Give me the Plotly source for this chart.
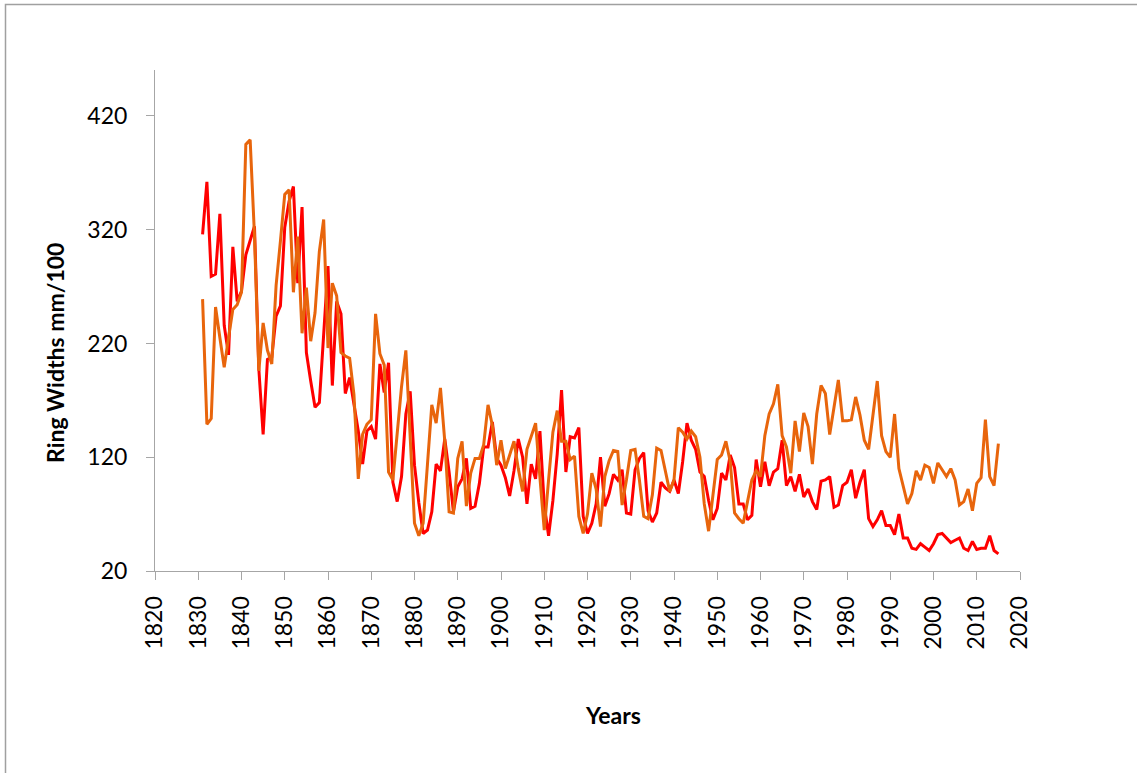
import plotly.graph_objects as go

years = list(range(1831, 2016))

red_widths = [
    316, 362, 279, 281, 334, 236, 210, 305, 257, 266,
    298, 310, 323, 198, 140, 206, 208, 244, 253, 322,
    345, 358, 273, 340, 212, 187, 164, 168, 225, 288,
    183, 257, 246, 176, 190, 168, 143, 114, 143, 147,
    136, 202, 177, 203, 98, 81, 103, 158, 178, 113,
    80, 53, 56, 72, 114, 108, 136, 107, 72, 94,
    101, 119, 75, 77, 97, 129, 129, 151, 119, 113,
    102, 86, 108, 136, 120, 79, 114, 101, 143, 78,
    51, 82, 123, 179, 107, 138, 137, 146, 68, 53,
    62, 79, 120, 77, 88, 105, 100, 109, 71, 70,
    109, 119, 124, 73, 63, 71, 98, 93, 90, 100,
    88, 116, 150, 135, 127, 107, 103, 82, 65, 75,
    106, 100, 122, 111, 79, 79, 65, 69, 118, 94,
    116, 95, 107, 110, 135, 95, 103, 90, 105, 85,
    92, 81, 74, 99, 100, 103, 76, 78, 95, 98,
    109, 84, 98, 109, 66, 59, 65, 73, 60, 60,
    52, 70, 49, 49, 40, 39, 44, 41, 38, 44,
    52, 53, 49, 45, 47, 49, 40, 38, 46, 39,
    40, 40, 51, 38, 35,
]

orange_widths = [
    259, 149, 154, 252, 225, 199, 225, 250, 254, 265,
    395, 399, 315, 196, 238, 214, 202, 271, 310, 351,
    355, 265, 314, 229, 269, 222, 247, 301, 329, 216,
    273, 262, 212, 209, 207, 175, 101, 140, 149, 153,
    246, 211, 201, 107, 100, 140, 182, 214, 135, 62,
    51, 62, 114, 166, 150, 181, 134, 72, 71, 119,
    134, 77, 106, 119, 119, 131, 166, 148, 113, 135,
    110, 123, 134, 110, 90, 127, 139, 150, 102, 56,
    100, 142, 161, 134, 134, 118, 121, 68, 53, 70,
    106, 92, 59, 103, 117, 126, 125, 78, 100, 126,
    127, 100, 68, 66, 87, 128, 126, 107, 90, 100,
    146, 142, 136, 143, 138, 120, 79, 55, 85, 118,
    122, 134, 116, 71, 66, 62, 81, 100, 108, 103,
    139, 158, 167, 184, 139, 129, 106, 152, 125, 159,
    147, 114, 158, 183, 176, 140, 164, 188, 152, 152,
    153, 173, 157, 135, 127, 158, 187, 139, 125, 120,
    158, 110, 95, 79, 88, 108, 100, 113, 111, 97,
    115, 109, 103, 110, 100, 78, 81, 92, 73, 97,
    102, 153, 103, 95, 132,
]

y_ticks = [20, 120, 220, 320, 420]
x_ticks = list(range(1820, 2021, 10))

FONT = "Lato, 'Liberation Sans', Arial, sans-serif"
AXIS_GREY = "#a6a6a6"

# plot-area geometry in pixels (for placing titles / frame)
L, R, T, B = 155, 117, 70, 202
W = 1137 - L - R
H = 773 - T - B

def px_x(px):
    return (px - L) / W

def px_y(py):
    return (773 - B - py) / H

fig = go.Figure()
fig.add_trace(go.Scatter(x=years, y=red_widths, mode="lines",
                         line=dict(color="#FF0000", width=3), name="Series 1"))
fig.add_trace(go.Scatter(x=years, y=orange_widths, mode="lines",
                         line=dict(color="#E8650C", width=3), name="Series 2"))

fig.update_layout(
    width=1137, height=773,
    margin=dict(l=L, r=R, t=T, b=B),
    paper_bgcolor="white", plot_bgcolor="white",
    showlegend=False,
    font=dict(family=FONT, size=23, color="black"),
    xaxis=dict(range=[1820, 2020], tickvals=x_ticks, tickangle=-90,
               showline=True, linecolor=AXIS_GREY, linewidth=1,
               ticks="outside", ticklen=8, tickcolor=AXIS_GREY,
               showgrid=False, zeroline=False, ticklabelstandoff=7,
               tickfont=dict(size=23, family=FONT, color="black")),
    yaxis=dict(range=[20, 460.4], tickvals=y_ticks,
               showline=True, linecolor=AXIS_GREY, linewidth=1,
               ticks="outside", ticklen=8, tickcolor=AXIS_GREY,
               showgrid=False, zeroline=False, ticklabelstandoff=14,
               tickfont=dict(size=23, family=FONT, color="black")),
    annotations=[
        dict(text="<b>Years</b>", xref="paper", yref="paper",
             x=px_x(613), y=px_y(715), xanchor="center", yanchor="middle",
             showarrow=False, font=dict(size=23, family=FONT, color="black")),
        dict(text="<b>Ring Widths mm/100</b>", xref="paper", yref="paper",
             x=px_x(55), y=px_y(353), xanchor="center", yanchor="middle",
             textangle=-90, showarrow=False,
             font=dict(size=23, family=FONT, color="black")),
    ],
    shapes=[
        dict(type="rect", xref="paper", yref="paper",
             x0=px_x(5.5), x1=px_x(1150), y0=px_y(790), y1=px_y(4.5),
             line=dict(color="#a0a0a0", width=1.5), fillcolor="rgba(0,0,0,0)",
             layer="below"),
    ],
)

fig.write_html("out.html",
               config={"displayModeBar": False},
               post_script="document.body.style.margin='0';document.body.style.overflow='hidden';")
